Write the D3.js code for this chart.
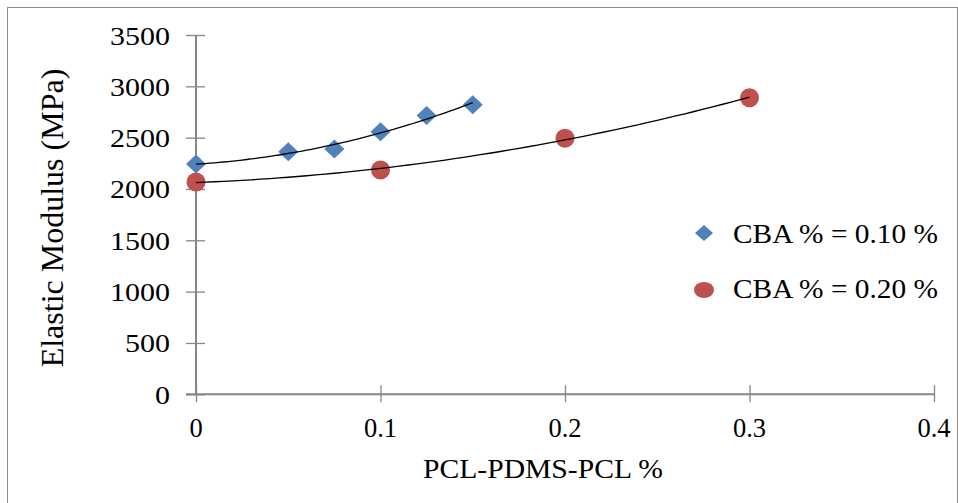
<!DOCTYPE html>
<html>
<head>
<meta charset="utf-8">
<script src="https://cdn.jsdelivr.net/npm/d3@7"></script>
<style>
  html, body { margin: 0; padding: 0; background: #fff; }
  svg { display: block; }
  text { font-family: "Liberation Serif", "Times New Roman", serif; fill: #000; }
</style>
</head>
<body>
<svg id="chart" width="958" height="503"></svg>
<script>
// ---- data ----
const seriesNames = ["CBA % = 0.10 %", "CBA % = 0.20 %"];
const blueX = [0, 0.05, 0.075, 0.1, 0.125, 0.15];
const blueY = [2243, 2362, 2389, 2558, 2716, 2820];
const redX = [0, 0.1, 0.2, 0.3];
const redY = [2068, 2185, 2494, 2889];
const xTicks = [0, 0.1, 0.2, 0.3, 0.4];
const yTicks = [0, 500, 1000, 1500, 2000, 2500, 3000, 3500];
const xTitle = "PCL-PDMS-PCL %";
const yTitle = "Elastic Modulus (MPa)";

const blue = "#4F81BD", red = "#C0504D", axisCol = "#868686";

const svg = d3.select("#chart");
const x = d3.scaleLinear().domain([0, 0.4]).range([196, 934]);
const y = d3.scaleLinear().domain([0, 3500]).range([394.3, 35]);

// outer frame
svg.append("rect").attr("x", 7.5).attr("y", 7.5).attr("width", 950).attr("height", 520)
  .attr("fill", "none").attr("stroke", "#8c8c8c").attr("stroke-width", 1);

// axes
const yAxis = d3.axisLeft(y).tickValues(yTicks).tickSize(0).tickFormat(d3.format("d"));
const xAxis = d3.axisBottom(x).tickValues(xTicks).tickSize(0).tickFormat(d => d === 0 ? "0" : d3.format(".1f")(d));

const gy = svg.append("g").attr("transform", `translate(${x(0)},0)`).call(yAxis);
gy.select(".domain").remove();
gy.selectAll(".tick text").remove();
gy.append("line").attr("x1", 0).attr("x2", 0).attr("y1", y(3500)).attr("y2", y(0))
  .attr("stroke", axisCol).attr("stroke-width", 2);
gy.selectAll(".tick").append("line").attr("x1", -10).attr("x2", 9)
  .attr("stroke", axisCol).attr("stroke-width", 1.3);

const gx = svg.append("g").attr("transform", `translate(0,${y(0)})`).call(xAxis);
gx.select(".domain").remove();
gx.selectAll(".tick text").remove();
gx.append("line").attr("x1", x(0) - 10).attr("x2", x(0.4)).attr("y1", 0).attr("y2", 0)
  .attr("stroke", axisCol).attr("stroke-width", 2);
gx.selectAll(".tick").append("line").attr("y1", -9).attr("y2", 8)
  .attr("stroke", axisCol).attr("stroke-width", 1.3);

// y tick labels
svg.append("g").selectAll("text").data(yTicks).join("text")
  .attr("x", 170).attr("y", d => y(d) + 9.5)
  .attr("text-anchor", "end").attr("font-size", 25)
  .attr("textLength", d => String(d).length * 15).attr("lengthAdjust", "spacingAndGlyphs")
  .text(d => String(d));

// x tick labels
svg.append("g").selectAll("text").data(xTicks).join("text")
  .attr("x", d => x(d)).attr("y", 436.5)
  .attr("text-anchor", "middle").attr("font-size", 26.5)
  .text(d => d === 0 ? "0" : d3.format(".1f")(d));

// titles
svg.append("text").attr("x", 423).attr("y", 478)
  .attr("font-size", 27.5).attr("textLength", 240).attr("lengthAdjust", "spacingAndGlyphs")
  .text(xTitle);
svg.append("text").attr("transform", `translate(63,218) rotate(-90)`)
  .attr("text-anchor", "middle").attr("font-size", 32)
  .text(yTitle);

// markers
const diamond = (cx, cy, w, h) => `M${cx},${cy - h}L${cx + w},${cy}L${cx},${cy + h}L${cx - w},${cy}Z`;
const blueData = blueX.map((v, i) => [v, blueY[i]]);
const redData = redX.map((v, i) => [v, redY[i]]);

svg.append("g").selectAll("path").data(blueData).join("path")
  .attr("d", d => diamond(x(d[0]), y(d[1]), 10, 9.5)).attr("fill", blue);
svg.append("g").selectAll("circle").data(redData).join("circle")
  .attr("cx", d => x(d[0])).attr("cy", d => y(d[1])).attr("r", 9.5).attr("fill", red);

// quadratic least-squares trendlines (computed from the data)
function polyFit2(data) {
  let s = [0, 0, 0, 0, 0], t = [0, 0, 0];
  data.forEach(([a, b]) => {
    for (let k = 0; k < 5; k++) s[k] += Math.pow(a, k);
    for (let k = 0; k < 3; k++) t[k] += b * Math.pow(a, k);
  });
  const M = [[s[0], s[1], s[2], t[0]], [s[1], s[2], s[3], t[1]], [s[2], s[3], s[4], t[2]]];
  for (let i = 0; i < 3; i++) {
    let p = i;
    for (let r = i + 1; r < 3; r++) if (Math.abs(M[r][i]) > Math.abs(M[p][i])) p = r;
    [M[i], M[p]] = [M[p], M[i]];
    for (let r = 0; r < 3; r++) if (r !== i) {
      const f = M[r][i] / M[i][i];
      for (let c = i; c < 4; c++) M[r][c] -= f * M[i][c];
    }
  }
  const c = M.map((row, i) => row[3] / row[i]);
  return v => c[0] + c[1] * v + c[2] * v * v;
}
function trend(data) {
  const f = polyFit2(data);
  const xs = d3.range(0, 61).map(i => d3.min(data, d => d[0]) + (d3.max(data, d => d[0]) - d3.min(data, d => d[0])) * i / 60);
  return xs.map(v => [v, f(v)]);
}
const line = d3.line().x(d => x(d[0])).y(d => y(d[1])).curve(d3.curveLinear);
[blueData, redData].forEach(data => {
  svg.append("path").attr("d", line(trend(data)))
    .attr("fill", "none").attr("stroke", "#000").attr("stroke-width", 1.3);
});

// legend
const lg = svg.append("g");
lg.append("path").attr("d", diamond(704, 233, 9, 8)).attr("fill", blue);
lg.append("ellipse").attr("cx", 704).attr("cy", 290).attr("rx", 10).attr("ry", 8).attr("fill", red);
lg.selectAll("text").data(seriesNames).join("text")
  .attr("x", 733).attr("y", (d, i) => i === 0 ? 243 : 298)
  .attr("font-size", 27.5).attr("textLength", 205).attr("lengthAdjust", "spacingAndGlyphs")
  .text(d => d);
</script>
</body>
</html>
